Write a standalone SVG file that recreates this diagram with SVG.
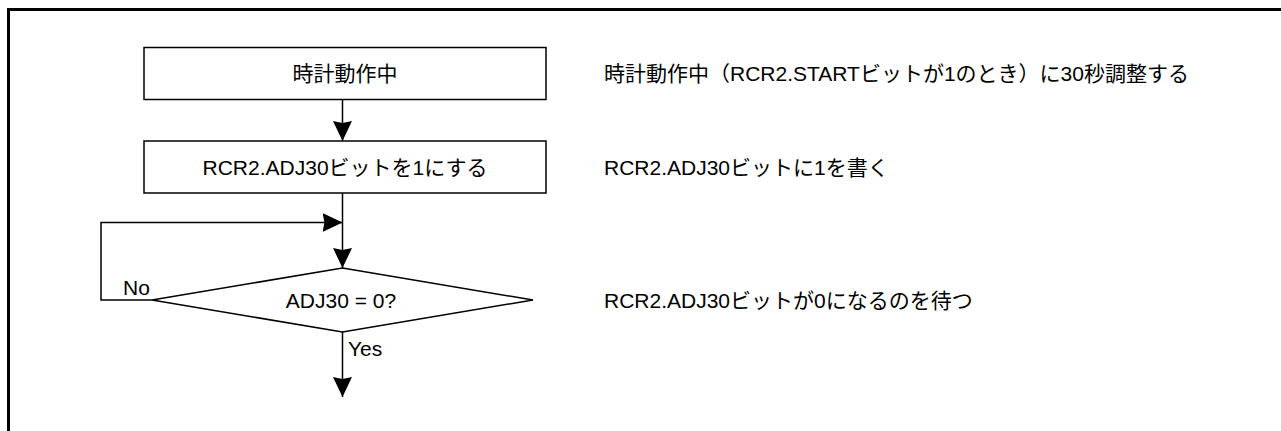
<svg xmlns="http://www.w3.org/2000/svg" width="1281" height="431" viewBox="0 0 1281 431">
<style>
.frame{fill:none;stroke:#000;stroke-width:3}
.shape{fill:#fff;stroke:#000;stroke-width:1.5}
.conn{fill:none;stroke:#000;stroke-width:1.5}
text{font-family:"Liberation Sans","Noto Sans CJK JP",sans-serif;font-size:21px;fill:#000}
.c{text-anchor:middle}
</style>
<defs>
<marker id="arr" viewBox="0 0 20 20" refX="20" refY="10" markerWidth="20" markerHeight="20" markerUnits="userSpaceOnUse" orient="auto">
<path d="M0,0.5 L20,10 L0,19.5 L2,10 Z" fill="#000"/>
</marker>
</defs>
<rect width="1281" height="431" fill="#fff"/>
<path class="frame" d="M8.5,431 V9.5 H1281"/>
<g id="connectors">
<path class="conn" d="M342.5,100 V141" marker-end="url(#arr)"/>
<path class="conn" d="M342.5,193 V268" marker-end="url(#arr)"/>
<path class="conn" d="M152,300 H101 V222.5 H342.5" marker-end="url(#arr)"/>
<path class="conn" d="M342.5,332 V397" marker-end="url(#arr)"/>
</g>
<g id="n1">
<rect class="shape" x="144" y="47.5" width="402" height="52"/>
<text class="c" x="345" y="81">時計動作中</text>
</g>
<g id="n2">
<rect class="shape" x="144" y="141" width="402" height="52"/>
<text class="c" x="345" y="174.5">RCR2.ADJ30ビットを1にする</text>
</g>
<g id="n3">
<polygon class="shape" points="342.5,268 533,300 342.5,332 152,300"/>
<text class="c" x="341" y="307.5">ADJ30 = 0?</text>
</g>
<g id="labels">
<text x="123" y="295">No</text>
<text x="348" y="356">Yes</text>
<text x="604" y="81">時計動作中（RCR2.STARTビットが1のとき）に30秒調整する</text>
<text x="604" y="174.5">RCR2.ADJ30ビットに1を書く</text>
<text x="604" y="307.5">RCR2.ADJ30ビットが0になるのを待つ</text>
</g>
</svg>
